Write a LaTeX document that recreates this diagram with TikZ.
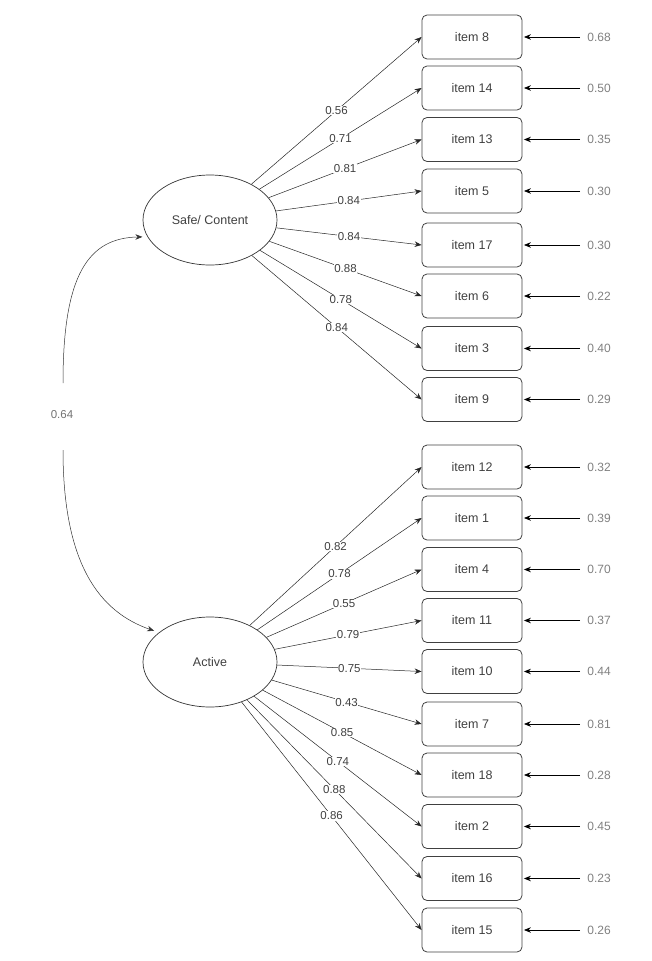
\documentclass[tikz,border=0pt]{standalone}
\usepackage{fontspec}
\setmainfont{Liberation Sans}
\usetikzlibrary{arrows.meta,shapes.geometric}
\begin{document}
\begin{tikzpicture}[x=1pt,y=-1pt,
  latent/.style={draw=black!80, line width=0.7pt, ellipse, minimum width=134pt, minimum height=90pt, inner sep=0pt, font=\fontsize{12.5}{14}\selectfont, text=black!75},
  itembox/.style={draw=black!75, line width=0.8pt, rounded corners=5pt, minimum width=100pt, minimum height=44pt, inner sep=0pt, font=\fontsize{12.5}{14}\selectfont, text=black!75},
  errlab/.style={font=\fontsize{12}{14}\selectfont, text=black!50, inner sep=1pt},
  load/.style={draw=black!85, line width=0.5pt, -{Stealth[length=7pt,width=5.5pt]}},
  loadlab/.style={fill=white, inner sep=0.6pt, font=\fontsize{11.5}{13}\selectfont, text=black!75, pos=0.5},
  resid/.style={draw=black, line width=0.8pt, -{Stealth[length=7pt,width=5.5pt]}, shorten <=6pt, shorten >=1.5pt},
  covarc/.style={draw=black!80, line width=0.5pt, -{Stealth[length=7pt,width=5.5pt]}, shorten >=5pt},
]
\useasboundingbox (0,0) rectangle (651,961);

% latent variables
\node[latent] (safe) at (210,220) {Safe/ Content};
\node[latent] (active) at (210,662) {Active};

% observed items with residuals
\foreach \n/\y/\r in {8/37/0.68, 14/88/0.50, 13/139.5/0.35, 5/191/0.30, 17/245/0.30, 6/296/0.22, 3/348.5/0.40, 9/399.5/0.29,
                      12/467/0.32, 1/518/0.39, 4/569.5/0.70, 11/620.5/0.37, 10/671.5/0.44, 7/724/0.81, 18/775/0.28, 2/826.5/0.45, 16/878.5/0.23, 15/930/0.26}{
  \node[itembox] (it\n) at (472,\y) {item \n};
  \node[errlab] (e\n) at (599,\y) {\r};
  \draw[resid] (e\n.west) -- (it\n.east);
}

% loadings
\foreach \n/\l in {8/0.56, 14/0.71, 13/0.81, 5/0.84, 17/0.84, 6/0.88, 3/0.78, 9/0.84}{
  \draw[load] (safe) -- node[loadlab]{\l} (it\n.west);
}
\foreach \n/\l in {12/0.82, 1/0.78, 4/0.55, 11/0.79, 10/0.75, 7/0.43, 18/0.85, 2/0.74, 16/0.88, 15/0.86}{
  \draw[load] (active) -- node[loadlab]{\l} (it\n.west);
}

% covariance
\node[font=\fontsize{11.5}{13}\selectfont, text=black!55, inner sep=1pt] (cov) at (62,415) {0.64};
\coordinate (ctop) at (63,383);
\coordinate (cbot) at (63,450);
\draw[covarc] (ctop) .. controls (63,275) and (88,238) .. (safe.195);
\draw[covarc] (cbot) .. controls (63,565) and (100,612) .. (active.150);
\end{tikzpicture}
\end{document}
